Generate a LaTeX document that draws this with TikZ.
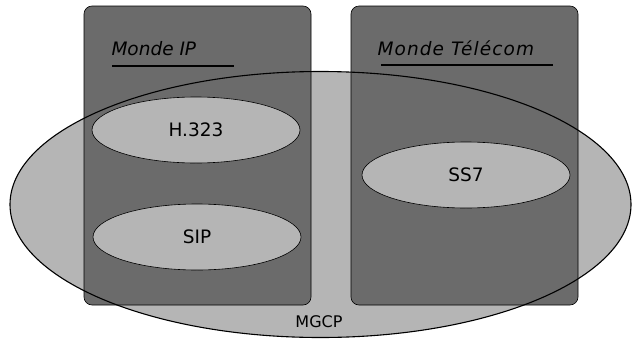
\documentclass[tikz,border=0pt]{standalone}
\usepackage{fontspec}
\setmainfont{DejaVu Sans}
\newfontfamily\titlefont{DejaVu Sans}
\begin{document}
\begin{tikzpicture}[x=1pt,y=-1pt,
  world/.style={fill=black!58, draw=black, line width=0.6pt, rounded corners=8pt},
  proto/.style={ellipse, fill=black!29, draw=black, line width=0.6pt, minimum width=208pt, minimum height=66pt, inner sep=0pt, font=\fontsize{18.5}{22}\selectfont},
  titletext/.style={font=\titlefont\itshape\fontsize{18.5}{22}\selectfont, anchor=base west},
  uline/.style={line width=1.1pt}]
\usetikzlibrary{shapes.geometric}
\useasboundingbox (0,0) rectangle (638,338);
\fill[white] (0,0) rectangle (638,338);
% big MGCP ellipse fill
\node[ellipse, fill=black!29, minimum width=621pt, minimum height=266pt, inner sep=0pt] (mgcpell) at (320.5,204.5) {};
% worlds
\draw[world] (84,6) rectangle (311,305);
\draw[world] (351,6) rectangle (578,305);
% outline of MGCP ellipse on top
\draw[line width=1.1pt] (mgcpell.center) ellipse [x radius=310.5pt, y radius=133pt];
% titles
\node[titletext] (iptitle) at (108,55) {Monde IP};
\draw[uline] (112,66) -- (234,66);
\node[titletext, font=\titlefont\itshape\fontsize{18.5}{22}\selectfont\addfontfeature{LetterSpace=6}] (teltitle) at (374,55) {Monde Télécom};
\draw[uline] (381,65) -- (553,65);
% protocols
\node[proto] (h323) at (196,130) {H.323};
\node[proto] (sip) at (197,237) {SIP};
\node[proto] (ss7) at (466,175) {SS7};
\node[font=\fontsize{16}{19}\selectfont] (mgcp) at (319,322) {MGCP};
\end{tikzpicture}
\end{document}
